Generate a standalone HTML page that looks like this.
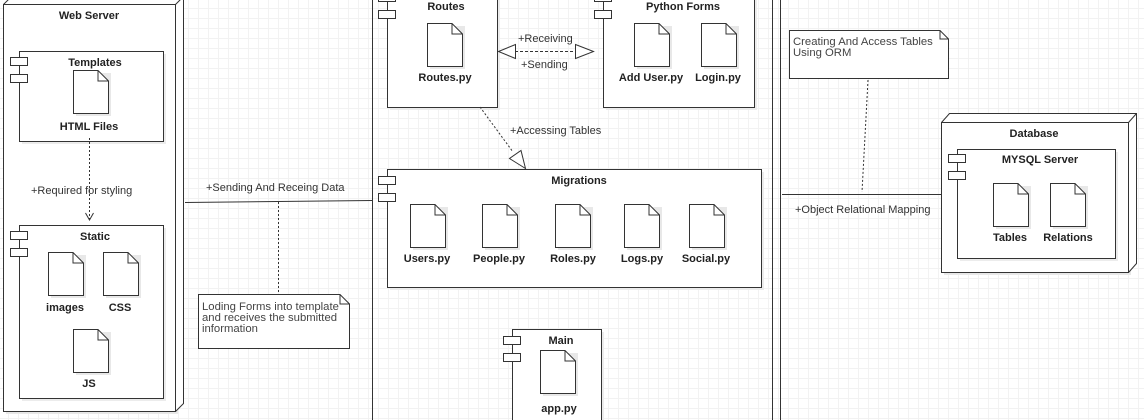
<!DOCTYPE html>
<html><head><meta charset="utf-8"><style>
html,body{margin:0;padding:0;background:#fff}
body{width:1144px;height:420px;overflow:hidden;
background-image:linear-gradient(#f2f2f2 1px,transparent 1px),linear-gradient(90deg,#f2f2f2 1px,transparent 1px);background-size:10px 10px;background-position:-2px -2px}
svg{position:absolute;left:0;top:0}
text{font-family:"Liberation Sans",sans-serif;font-size:11px;fill:#333}
.b{font-weight:bold;fill:#222}
.n{font-size:11.3px;fill:#444}
</style></head><body>
<svg width="1144" height="420" viewBox="0 0 1144 420" xmlns="http://www.w3.org/2000/svg">
<defs>
<g id="file"><rect x="3" y="3" width="35" height="43" fill="#e8e8e8"/><path d="M0.5 0.5 H25 L35.5 11 V43.5 H0.5 Z" fill="#fff" stroke="#333" stroke-width="1"/><path d="M25 0.5 V11 H35.5" fill="none" stroke="#333"/></g>
<g id="tabs"><rect x="0.5" y="0.5" width="17" height="8" fill="#fff" stroke="#333"/><rect x="0.5" y="17.5" width="17" height="8" fill="#fff" stroke="#333"/></g>
</defs>
<g fill="none" stroke="#333" stroke-width="1">
<rect x="6" y="7" width="172" height="407" fill="#e8e8e8" stroke="none"/>
<path d="M3.5 4.5 L11.5 -3.5 H183.5 V403.5 L175.5 411.5" fill="#fff"/>
<rect x="3.5" y="4.5" width="172" height="407" fill="#fff"/>
<path d="M175.5 4.5 L183.5 -3.5"/>
<rect x="22" y="54" width="144" height="90" fill="#ececec" stroke="none"/>
<rect x="19.5" y="51.5" width="144" height="90" fill="#fff"/>
<rect x="22" y="228" width="144" height="173" fill="#ececec" stroke="none"/>
<rect x="19.5" y="225.5" width="144" height="173" fill="#fff"/>
<path d="M372.5 -5 V425 M772.5 -5 V425 M780.5 -5 V425"/>
<rect x="390" y="-10" width="110" height="120" fill="#ececec" stroke="none"/>
<rect x="387.5" y="-12.5" width="110" height="120" fill="#fff"/>
<rect x="606" y="-10" width="151" height="120" fill="#ececec" stroke="none"/>
<rect x="603.5" y="-12.5" width="151" height="120" fill="#fff"/>
<rect x="390" y="172" width="374" height="118" fill="#ececec" stroke="none"/>
<rect x="387.5" y="169.5" width="374" height="118" fill="#fff"/>
<rect x="515" y="332" width="89" height="100" fill="#ececec" stroke="none"/>
<rect x="512.5" y="329.5" width="89" height="100" fill="#fff"/>
<rect x="944" y="125" width="187" height="150" fill="#e8e8e8" stroke="none"/>
<path d="M941.5 122.5 L949.5 113.5 H1136.5 V263.5 L1128.5 272.5" fill="#fff"/>
<rect x="941.5" y="122.5" width="187" height="150" fill="#fff"/>
<path d="M1128.5 122.5 L1136.5 113.5"/>
<rect x="960" y="152" width="158" height="109" fill="#ececec" stroke="none"/>
<rect x="957.5" y="149.5" width="158" height="109" fill="#fff"/>
<path d="M198.5 294.5 H340 L349.5 304 V348.5 H198.5 Z" fill="#fff"/><path d="M340 294.5 V304 H349.5"/>
<path d="M789.5 30.5 H940 L948.5 39 V78.5 H789.5 Z" fill="#fff"/><path d="M940 30.5 V39 H948.5"/>
<path d="M185 202.5 L372 200.5"/>
<path d="M278.5 202 V293" stroke-dasharray="2,2"/>
<path d="M782 194.5 H941"/>
<path d="M868 80 L862 192" stroke-dasharray="2,2"/>
<path d="M89.5 138 V219" stroke-dasharray="2,2"/>
<path d="M85.5 213 L89.5 220 L93.5 213"/>
<path d="M515 51.5 H575" stroke-dasharray="3,2"/>
<path d="M498.5 51.5 L515.5 44.5 V58.5 Z" fill="#fff"/>
<path d="M593.5 51.5 L575.5 44.5 V58.5 Z" fill="#fff"/>
<path d="M480 107 L513 152" stroke-dasharray="2,2"/>
<path d="M525.5 168.5 L509.5 158.5 L521 150.5 Z" fill="#fff"/>
</g>
<g>
<use href="#tabs" x="10" y="57"/><use href="#tabs" x="10" y="231"/>
<use href="#tabs" x="378" y="-7"/><use href="#tabs" x="594" y="-7"/>
<use href="#tabs" x="378" y="176"/><use href="#tabs" x="503" y="336"/>
<use href="#tabs" x="948" y="154"/>
<use href="#file" x="73" y="70"/>
<use href="#file" x="48" y="252"/><use href="#file" x="103" y="252"/><use href="#file" x="73" y="329"/>
<use href="#file" x="427" y="23"/><use href="#file" x="634" y="23"/><use href="#file" x="701" y="23"/>
<use href="#file" x="410" y="204"/><use href="#file" x="482" y="204"/><use href="#file" x="555" y="204"/><use href="#file" x="624" y="204"/><use href="#file" x="689" y="204"/>
<use href="#file" x="540" y="350"/>
<use href="#file" x="993" y="183"/><use href="#file" x="1050" y="183"/>
</g>
<g text-anchor="middle">
<text class="b" x="89" y="19">Web Server</text>
<text class="b" x="95" y="66">Templates</text>
<text class="b" x="89" y="130">HTML Files</text>
<text class="b" x="95" y="240">Static</text>
<text class="b" x="65" y="311">images</text>
<text class="b" x="120" y="311">CSS</text>
<text class="b" x="89" y="387">JS</text>
<text class="b" x="446" y="10">Routes</text>
<text class="b" x="445" y="81">Routes.py</text>
<text class="b" x="683" y="10">Python Forms</text>
<text class="b" x="651" y="81">Add User.py</text>
<text class="b" x="718" y="81">Login.py</text>
<text class="b" x="579" y="184">Migrations</text>
<text class="b" x="427" y="262">Users.py</text>
<text class="b" x="499" y="262">People.py</text>
<text class="b" x="573" y="262">Roles.py</text>
<text class="b" x="642" y="262">Logs.py</text>
<text class="b" x="706" y="262">Social.py</text>
<text class="b" x="561" y="344">Main</text>
<text class="b" x="559" y="412">app.py</text>
<text class="b" x="1034" y="137">Database</text>
<text class="b" x="1040" y="163">MYSQL Server</text>
<text class="b" x="1010" y="241">Tables</text>
<text class="b" x="1068" y="241">Relations</text>
</g>
<g>
<text x="31" y="194">+Required for styling</text>
<text x="206" y="191">+Sending And Receing Data</text>
<text x="518" y="42">+Receiving</text>
<text x="521" y="68">+Sending</text>
<text x="510" y="134">+Accessing Tables</text>
<text x="795" y="213">+Object Relational Mapping</text>
<text class="n" x="202" y="310">Loding Forms into template</text>
<text class="n" x="202" y="321">and receives the submitted</text>
<text class="n" x="202" y="332">information</text>
<text class="n" x="793" y="45">Creating And Access Tables</text>
<text class="n" x="793" y="56">Using ORM</text>
</g>
</svg>
</body></html>
